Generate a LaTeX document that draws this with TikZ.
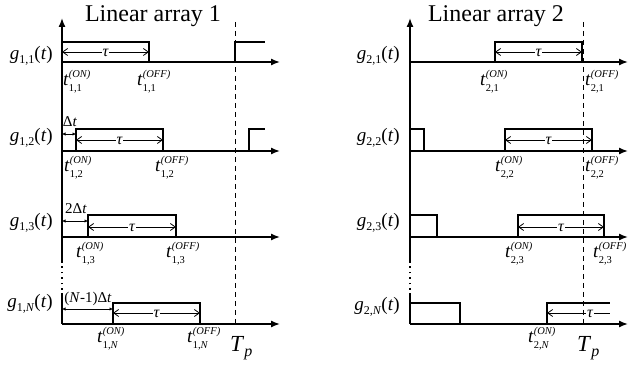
\documentclass[tikz,border=0pt]{standalone}
\usepackage{fontspec}
\setmainfont{Liberation Serif}
\usetikzlibrary{arrows.meta}
\newcommand{\tlab}[2]{\textit{t}\rlap{\raisebox{8pt}{\fontsize{10.5}{10.5}\selectfont\textit{(#1)}}}\raisebox{-6pt}{\fontsize{10.5}{10.5}\selectfont #2}}
\newcommand{\glab}[1]{\textit{g}\raisebox{-4pt}{\fontsize{12}{12}\selectfont #1}(\textit{t})}
\tikzset{
  pulse/.style={line width=1.6pt},
  axisline/.style={line width=1.4pt},
  axisarr/.style={line width=1.4pt,-{Latex[length=9pt,width=7pt]}},
  tauarr/.style={line width=0.8pt,{Straight Barb[length=5pt,width=7pt]}-{Straight Barb[length=5pt,width=7pt]}},
  tauarrl/.style={line width=0.8pt,{Straight Barb[length=5pt,width=7pt]}-},
  dtarr/.style={line width=0.8pt,{Latex[length=3.5pt,width=3.5pt]}-{Latex[length=3.5pt,width=3.5pt]}},
  dashline/.style={line width=0.9pt,dash pattern=on 5pt off 4pt},
  dotline/.style={line width=1.4pt,dash pattern=on 1.5pt off 4pt},
  taulab/.style={fill=white,inner sep=1pt,font=\fontsize{16}{16}\selectfont\itshape},
  glabel/.style={anchor=base east,inner sep=0pt,font=\fontsize{19}{19}\selectfont},
  tlabel/.style={anchor=base west,inner sep=0pt,font=\fontsize{19}{19}\selectfont},
  dlabel/.style={inner sep=0pt,font=\fontsize{15}{15}\selectfont},
  title/.style={inner sep=0pt,font=\fontsize{24}{24}\selectfont},
}
\begin{document}
\begin{tikzpicture}[x=1pt,y=-1pt]
\useasboundingbox (0,0) rectangle (630,366);
% titles
\node[title] (t1) at (153,16) {Linear array 1};
\node[title] (t2) at (496,16) {Linear array 2};
% ===== left panel =====
\draw[dashline] (235,22) -- (235,324);
\draw[axisline] (62,324) -- (62,293);
\draw[dotline] (62,290) -- (62,262);
\draw[axisarr] (62,262) -- (62,18);
% row 1
\draw[axisarr] (62,62) -- (280,62);
\draw[pulse] (62,62) |- (149,42) -- (149,62);
\draw[pulse] (235,62) |- (265,42);
\draw[tauarr] (62,52) -- (149,52);
\node[taulab] (ta11) at (105.5,53) {τ};
\node[glabel] (g11) at (53,60) {\glab{1,1}};
\node[tlabel] (on11) at (63,86) {\tlab{ON}{1,1}};
\node[tlabel] (off11) at (137,86) {\tlab{OFF}{1,1}};
% row 2
\draw[axisarr] (62,151) -- (280,151);
\draw[pulse] (76,151) |- (163,129) -- (163,151);
\draw[pulse] (249,151) |- (265,129);
\draw[tauarr] (76,140) -- (163,140);
\node[taulab] (ta12) at (119.5,141) {τ};
\draw[dtarr] (62,134) -- (76,134);
\node[dlabel] (d12) at (70,122) {Δ\textit{t}};
\node[glabel] (g12) at (53,142) {\glab{1,2}};
\node[tlabel] (on12) at (64,172) {\tlab{ON}{1,2}};
\node[tlabel] (off12) at (155,172) {\tlab{OFF}{1,2}};
% row 3
\draw[axisarr] (62,237) -- (280,237);
\draw[pulse] (88,237) |- (176,215) -- (176,237);
\draw[tauarr] (88,227) -- (176,227);
\node[taulab] (ta13) at (132,228) {τ};
\draw[dtarr] (62,221) -- (88,221);
\node[dlabel] (d13) at (76,209) {2Δ\textit{t}};
\node[glabel] (g13) at (53,227) {\glab{1,3}};
\node[tlabel] (on13) at (76,258) {\tlab{ON}{1,3}};
\node[tlabel] (off13) at (166,258) {\tlab{OFF}{1,3}};
% row N
\draw[axisarr] (62,324) -- (280,324);
\draw[pulse] (113,324) |- (200,303) -- (200,324);
\draw[tauarr] (113,313) -- (200,313);
\node[taulab] (ta1N) at (156.5,314) {τ};
\draw[dtarr] (62,309) -- (113,309);
\node[dlabel] (d1N) at (88,299) {(\textit{N}-1)Δ\textit{t}};
\node[glabel] (g1N) at (53,308) {\glab{1,\textit{N}}};
\node[tlabel] (on1N) at (97,343) {\tlab{ON}{1,\textit{N}}};
\node[tlabel] (off1N) at (187,343) {\tlab{OFF}{1,\textit{N}}};
\node[tlabel,font=\fontsize{23}{23}\selectfont] (tp1) at (230,352) {\textit{T}\raisebox{-5pt}{\fontsize{16}{16}\selectfont\textit{p}}};
% ===== right panel =====
\draw[dashline] (583,22) -- (583,324);
\draw[axisline] (410,324) -- (410,293);
\draw[dotline] (410,290) -- (410,262);
\draw[axisarr] (410,262) -- (410,18);
% row 1
\draw[axisarr] (410,62) -- (628,62);
\draw[pulse] (495,62) |- (582,42) -- (582,62);
\draw[tauarr] (495,52) -- (582,52);
\node[taulab] (ta21) at (538.5,53) {τ};
\node[glabel] (g21) at (400,60) {\glab{2,1}};
\node[tlabel] (on21) at (480,86) {\tlab{ON}{2,1}};
\node[tlabel] (off21) at (585,86) {\tlab{OFF}{2,1}};
% row 2
\draw[axisarr] (410,151) -- (628,151);
\draw[pulse] (410,151) |- (424,129) -- (424,151);
\draw[pulse] (505,151) |- (592,129) -- (592,151);
\draw[tauarr] (505,140) -- (592,140);
\node[taulab] (ta22) at (548.5,141) {τ};
\node[glabel] (g22) at (400,142) {\glab{2,2}};
\node[tlabel] (on22) at (495,172) {\tlab{ON}{2,2}};
\node[tlabel] (off22) at (585,172) {\tlab{OFF}{2,2}};
% row 3
\draw[axisarr] (410,237) -- (628,237);
\draw[pulse] (410,237) |- (437,215) -- (437,237);
\draw[pulse] (518,237) |- (604,215) -- (604,237);
\draw[tauarr] (518,227) -- (604,227);
\node[taulab] (ta23) at (561,228) {τ};
\node[glabel] (g23) at (400,227) {\glab{2,3}};
\node[tlabel] (on23) at (505,258) {\tlab{ON}{2,3}};
\node[tlabel] (off23) at (593,258) {\tlab{OFF}{2,3}};
% row N
\draw[axisarr] (410,324) -- (628,324);
\draw[pulse] (410,324) |- (460,303) -- (460,324);
\draw[pulse] (547,324) |- (610,303);
\draw[tauarrl] (547,313) -- (610,313);
\node[taulab] (ta2N) at (590,314) {τ};
\node[glabel] (g2N) at (400,311) {\glab{2,\textit{N}}};
\node[tlabel] (on2N) at (528,343) {\tlab{ON}{2,\textit{N}}};
\node[tlabel,font=\fontsize{23}{23}\selectfont] (tp2) at (577,352) {\textit{T}\raisebox{-5pt}{\fontsize{16}{16}\selectfont\textit{p}}};
\end{tikzpicture}
\end{document}
